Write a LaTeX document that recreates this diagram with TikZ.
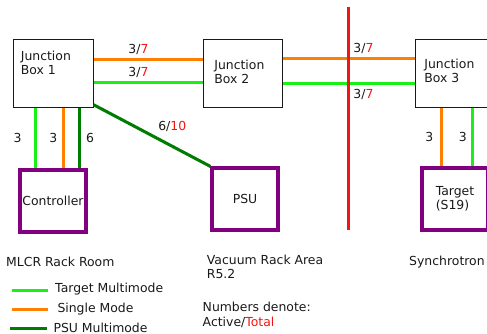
\documentclass[tikz,border=0pt]{standalone}
\usepackage{fontspec}
\setmainfont{DejaVu Sans}
\usetikzlibrary{calc}
\definecolor{tgtgreen}{RGB}{24,240,24}
\definecolor{smorange}{RGB}{255,128,0}
\definecolor{psugreen}{RGB}{0,125,0}
\definecolor{plum}{RGB}{128,0,128}
\definecolor{wallred}{RGB}{245,20,20}
\definecolor{ink}{RGB}{25,25,25}
\tikzset{
  txt/.style={font=\fontsize{10.6}{12}\selectfont,text=ink,inner sep=0pt,align=left},
  jbox/.style={draw=ink,line width=0.9pt,minimum width=2.38cm,minimum height=2.04cm,inner sep=0pt},
  dev/.style={draw=plum,line width=2.6pt,minimum width=1.98cm,minimum height=1.86cm,
    inner sep=0pt,txt},
  tgt/.style={draw=tgtgreen,line width=2.6pt},
  sm/.style={draw=smorange,line width=2.6pt},
  psu/.style={draw=psugreen,line width=2.6pt},
  wall/.style={draw=wallred,line width=2.6pt},
  num/.style={txt,inner sep=0pt},
}
\newcommand{\tot}[1]{\textcolor{wallred}{#1}}

\begin{document}
\begin{tikzpicture}[x=0.03cm,y=-0.03cm]
  \clip (0,0) rectangle (487,333);
  % junction boxes
  \node[jbox,label={[txt,anchor=north west,shift={(7.3,12)}]north west:{Junction\\Box 1}}] (jb1) at (53.5,73.7) {};
  \node[jbox,label={[txt,anchor=north west,shift={(11.3,20.5)}]north west:{Junction\\Box 2}}] (jb2) at (243,73.7) {};
  \node[jbox,label={[txt,anchor=north west,shift={(9.3,20)}]north west:{Junction\\Box 3}}] (jb3) at (455,73.2) {};
  % end points
  \node[dev] (ctrl) at (53,201) {Controller};
  \node[dev] (psu) at (245,199) {PSU};
  \node[dev] (tgt) at (455,199) {Target\\(S19)};
  % fibres between the junction boxes
  \draw[sm] ($(jb1.north east)!0.3!(jb1.south east)$) coordinate (o1) -- node[num,pos=0.41,above=3pt] {3/\tot{7}} (o1 -| jb2.west);
  \draw[tgt] ($(jb1.north east)!0.63!(jb1.south east)$) coordinate (g1) -- node[num,pos=0.41,above=3pt] {3/\tot{7}} (g1 -| jb2.west);
  \draw[sm] ($(jb2.north east)!0.28!(jb2.south east)$) coordinate (o2) -- node[num,pos=0.61,above=3pt] {3/\tot{7}} (o2 -| jb3.west);
  \draw[tgt] ($(jb2.north east)!0.64!(jb2.south east)$) coordinate (g2) -- node[num,pos=0.61,below=3.5pt] {3/\tot{7}} (g2 -| jb3.west);
  % drops to the racks
  \draw[tgt] ($(jb1.south west)!0.28!(jb1.south east)$) coordinate (d1) -- node[num,left=11pt] {3} (d1 |- ctrl.north);
  \draw[sm] ($(jb1.south west)!0.62!(jb1.south east)$) coordinate (d2) -- node[num,left=3.8pt] {3} (d2 |- ctrl.north);
  \draw[psu] ($(jb1.south west)!0.82!(jb1.south east)$) coordinate (d3) -- node[num,right=4.5pt] {6} (d3 |- ctrl.north);
  \draw[psu] ($(jb1.north east)!0.95!(jb1.south east)$) -- node[num,pos=0.54,anchor=south west,yshift=4pt] {6/\tot{10}} (psu.north west);
  \draw[sm] ($(jb3.south west)!0.33!(jb3.south east)$) coordinate (d4) -- node[num,left=5.5pt] {3} (d4 |- tgt.north);
  \draw[tgt] ($(jb3.south west)!0.72!(jb3.south east)$) coordinate (d5) -- node[num,left=3.8pt] {3} (d5 |- tgt.north);
  % shielding wall
  \draw[wall] (348.3,6.5) -- (348.3,229.5);
  % areas
  \node[txt,anchor=west] (room) at (6,262.3) {MLCR Rack Room};
  \node[txt,anchor=north west] (vac) at (206.7,255) {Vacuum Rack Area\\R5.2};
  \node[txt,anchor=west] (syn) at (409,262.3) {Synchrotron};
  % legend
  \node[txt,anchor=west] (lg1) at (55,289.3) {Target Multimode};
  \node[txt,anchor=west] (lg2) at (57.3,308.7) {Single Mode};
  \node[txt,anchor=west] (lg3) at (53.3,327.5) {PSU Multimode};
  \draw[tgt] (12,290.7) -- (48,290.7);
  \draw[sm] (12,309.3) -- (48,309.3);
  \draw[psu] (10,328.3) -- (46.7,328.3);
  \node[txt,anchor=north west] (key) at (202.5,302.3) {Numbers denote:\\Active/\tot{Total}};
\end{tikzpicture}
\end{document}
